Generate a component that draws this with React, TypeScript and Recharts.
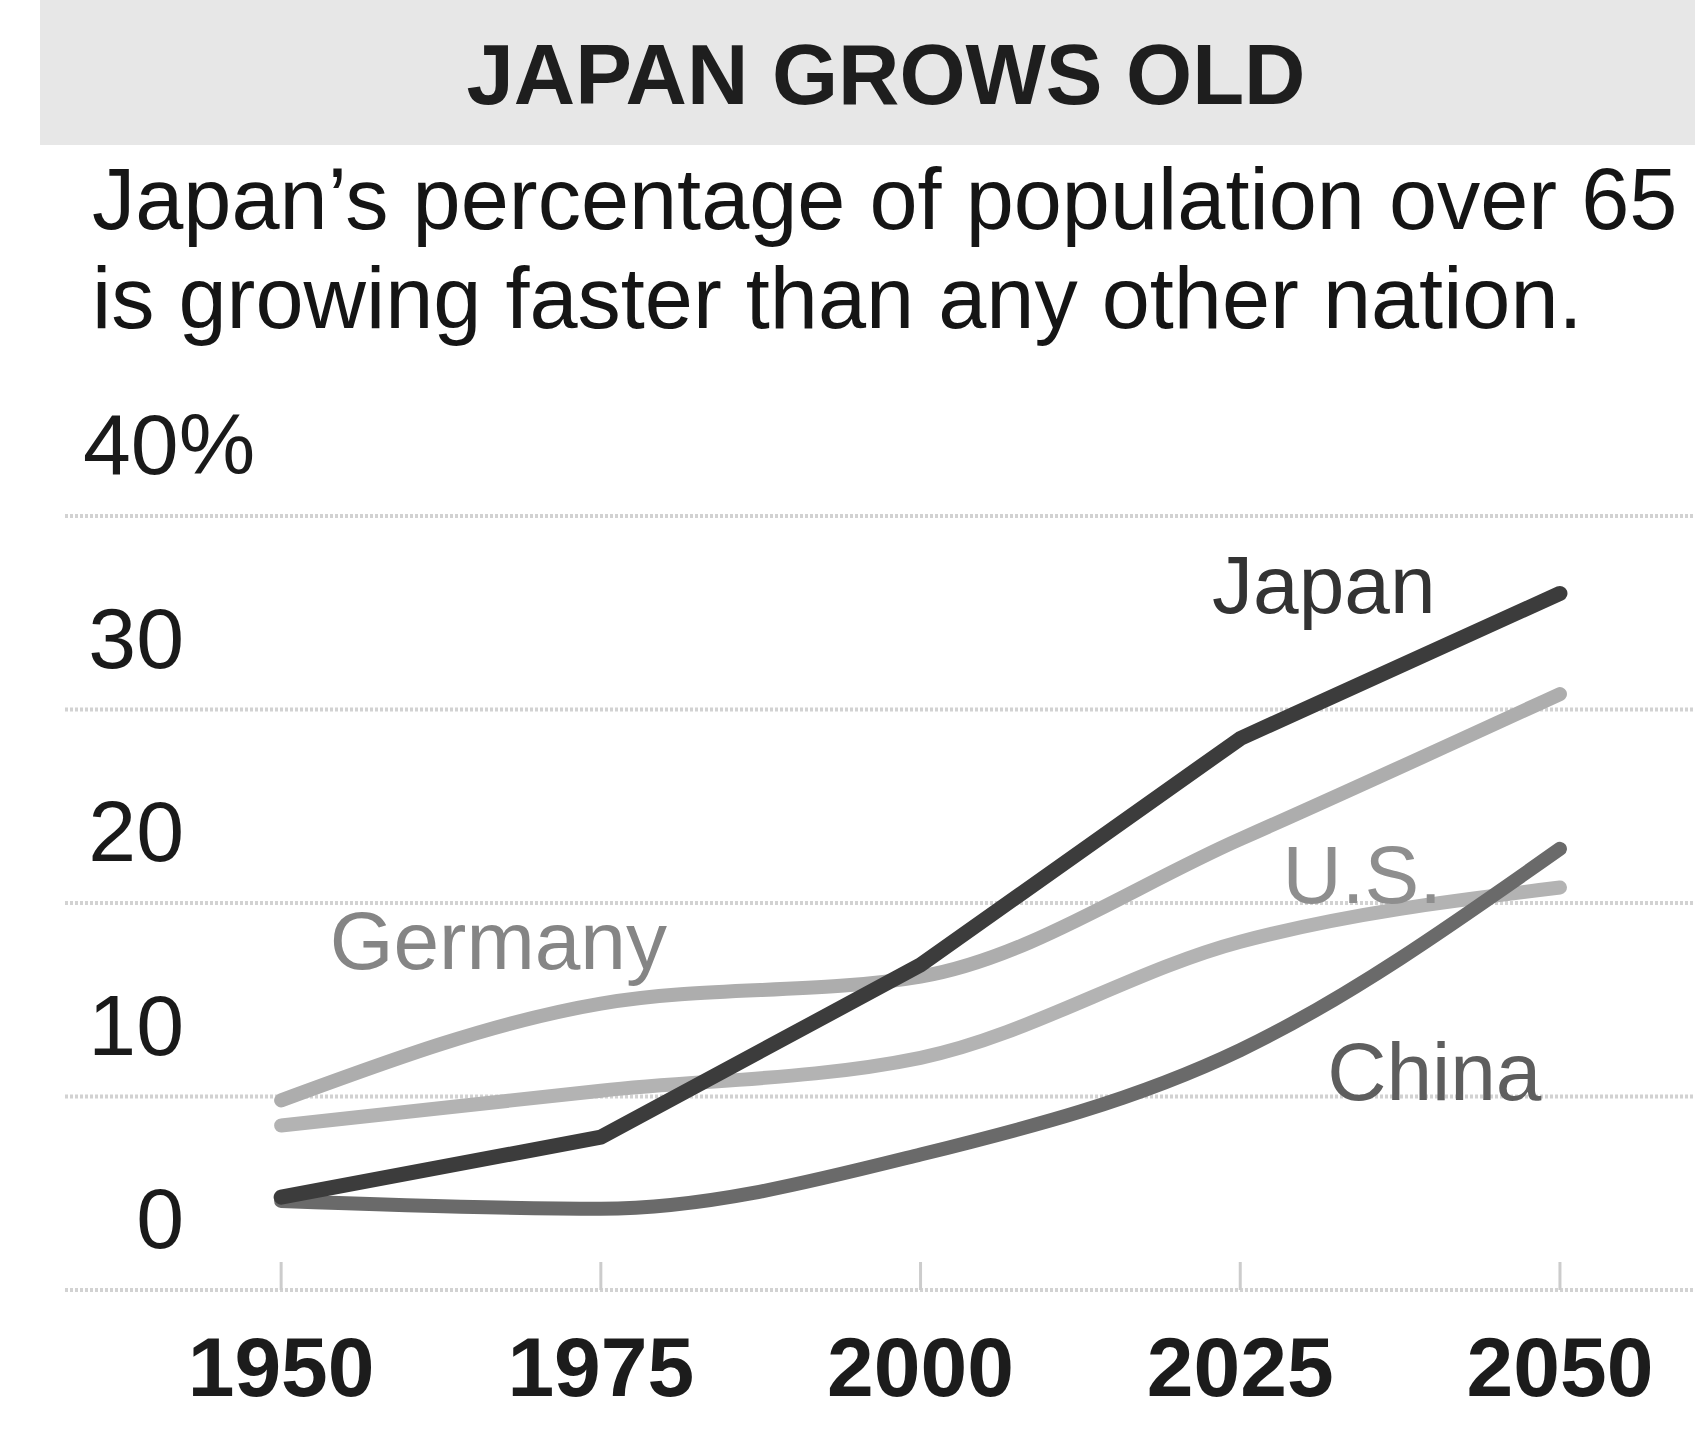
import React from "react";
import {
  LineChart,
  Line,
  XAxis,
  YAxis,
  CartesianGrid,
  ReferenceDot,
} from "recharts";

// Share of population aged 65+ (%)
const years = [1950, 1975, 2000, 2025, 2050];
const japan = [4.8, 7.9, 16.8, 28.5, 36.0];
const germany = [9.8, 14.8, 16.2, 23.3, 30.8];
const unitedStates = [8.5, 10.3, 12.0, 18.0, 20.8];
const china = [4.6, 4.2, 7.0, 12.4, 22.8];

const yTicks = [0, 10, 20, 30, 40];

const title = "JAPAN GROWS OLD";
const subtitle = [
  "Japan\u2019s percentage of population over 65",
  "is growing faster than any other nation.",
];

const data = years.map((year, i) => ({
  year,
  japan: japan[i],
  germany: germany[i],
  us: unitedStates[i],
  china: china[i],
}));

// series name labels, anchored in data space (year, %)
const seriesLabels = [
  { text: "Japan", year: 2022.8, value: 35.0, color: "#333333" },
  { text: "U.S.", year: 2028.3, value: 20.0, color: "#8e8e8e" },
  { text: "Germany", year: 1953.8, value: 16.6, color: "#858585" },
  { text: "China", year: 2031.8, value: 9.8, color: "#5e5e5e" },
];

const FONT = '"Liberation Sans", Arial, Helvetica, sans-serif';

const YTick = (props: any) => {
  const { y, payload } = props;
  const v = payload.value;
  if (v === 40) {
    return (
      <text x={83} y={y - 42} fontSize={86} fontFamily={FONT} fill="#1a1a1a">
        40%
      </text>
    );
  }
  return (
    <text
      x={184}
      y={y - 42}
      textAnchor="end"
      fontSize={86}
      fontFamily={FONT}
      fill="#1a1a1a"
    >
      {v}
    </text>
  );
};

const XTick = (props: any) => {
  const { x, y, payload } = props;
  return (
    <g>
      <line x1={x} x2={x} y1={y - 28} y2={y} stroke="#cccccc" strokeWidth={3} />
      <text
        x={x}
        y={y + 106}
        textAnchor="middle"
        fontSize={84}
        fontWeight="bold"
        fontFamily={FONT}
        fill="#1c1c1c"
      >
        {payload.value}
      </text>
    </g>
  );
};

export default function App() {
  return (
    <div
      style={{
        position: "absolute",
        left: 0,
        top: 0,
        width: 1695,
        height: 1432,
        background: "#ffffff",
        fontFamily: FONT,
        overflow: "hidden",
      }}
    >
      {/* title band */}
      <div
        style={{
          position: "absolute",
          left: 40,
          top: 0,
          width: 1655,
          height: 145,
          background: "#e7e7e7",
        }}
      />
      <div
        style={{
          position: "absolute",
          left: 0,
          width: 1772,
          top: 103 - 78,
          textAlign: "center",
          fontSize: 85,
          fontWeight: "bold",
          lineHeight: "100px",
          color: "#1e1e1e",
        }}
      >
        {title}
      </div>
      <svg
        width={1695}
        height={360}
        style={{ position: "absolute", left: 0, top: 0 }}
      >
        <text x={92} y={229} fontSize={86.5} fontFamily={FONT} fill="#151515">
          {subtitle[0]}
        </text>
        <text x={92} y={328} fontSize={86.5} fontFamily={FONT} fill="#151515">
          {subtitle[1]}
        </text>
      </svg>

      <div style={{ position: "absolute", left: 0, top: 0 }}>
        <LineChart
          width={1695}
          height={1432}
          data={data}
          margin={{ top: 516, right: 0, bottom: 42, left: 0 }}
        >
          <CartesianGrid
            vertical={false}
            stroke="#d2d2d2"
            strokeWidth={4}
            strokeDasharray="3 2"
          />
          <XAxis
            dataKey="year"
            type="number"
            domain={[1933.1, 2060.56]}
            ticks={years}
            allowDataOverflow
            axisLine={false}
            tickLine={false}
            tickSize={0}
            tickMargin={0}
            height={100}
            interval={0}
            tick={<XTick />}
          />
          <YAxis
            type="number"
            domain={[0, 40]}
            ticks={yTicks}
            axisLine={false}
            tickLine={false}
            width={65}
            interval={0}
            tick={<YTick />}
          />
          <Line
            dataKey="germany"
            type="monotone"
            stroke="#adadad"
            strokeWidth={14}
            strokeLinecap="round"
            dot={false}
            activeDot={false}
            isAnimationActive={false}
          />
          <Line
            dataKey="us"
            type="monotone"
            stroke="#b3b3b3"
            strokeWidth={14}
            strokeLinecap="round"
            dot={false}
            activeDot={false}
            isAnimationActive={false}
          />
          <Line
            dataKey="china"
            type="monotone"
            stroke="#6a6a6a"
            strokeWidth={14}
            strokeLinecap="round"
            dot={false}
            activeDot={false}
            isAnimationActive={false}
          />
          <Line
            dataKey="japan"
            type="linear"
            stroke="#3c3c3c"
            strokeWidth={15}
            strokeLinecap="round"
            strokeLinejoin="round"
            dot={false}
            activeDot={false}
            isAnimationActive={false}
          />
          {seriesLabels.map((l) => (
            <ReferenceDot
              key={l.text}
              x={l.year}
              y={l.value}
              r={0}
              ifOverflow="visible"
              shape={(p: any) => (
                <text
                  x={p.cx}
                  y={p.cy}
                  fontSize={82}
                  fontFamily={FONT}
                  fill={l.color}
                >
                  {l.text}
                </text>
              )}
            />
          ))}
        </LineChart>
      </div>
    </div>
  );
}
